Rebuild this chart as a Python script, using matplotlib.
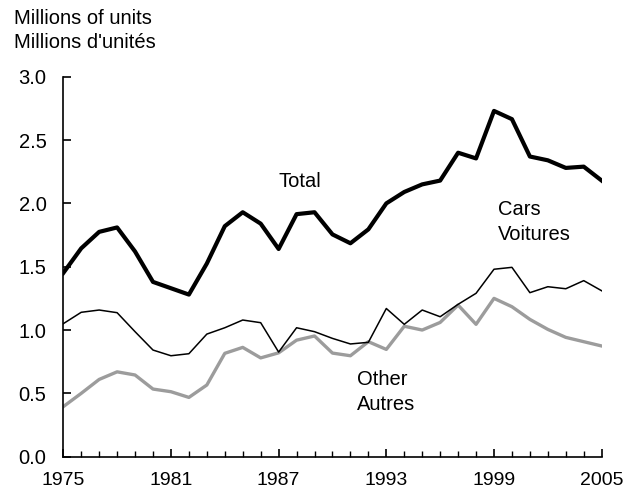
import matplotlib
matplotlib.use('Agg')
from matplotlib import pyplot as plt
from matplotlib.ticker import MultipleLocator

years = list(range(1975, 2006))

total = [1.45, 1.645, 1.775, 1.81, 1.62, 1.38, 1.33, 1.28, 1.525, 1.82,
         1.93, 1.84, 1.64, 1.915, 1.93, 1.755, 1.685, 1.795, 2.0, 2.09,
         2.15, 2.18, 2.40, 2.355, 2.73, 2.665, 2.37, 2.34, 2.28, 2.29,
         2.18]
cars = [1.05, 1.14, 1.158, 1.137, 0.987, 0.842, 0.797, 0.813, 0.968, 1.018,
        1.079, 1.058, 0.826, 1.018, 0.987, 0.934, 0.89, 0.903, 1.17, 1.045,
        1.158, 1.105, 1.203, 1.29, 1.48, 1.495, 1.295, 1.342, 1.326, 1.39,
        1.31]
other = [0.395, 0.5, 0.61, 0.67, 0.645, 0.534, 0.513, 0.468, 0.566, 0.816,
         0.863, 0.78, 0.82, 0.92, 0.953, 0.818, 0.797, 0.908, 0.847, 1.03,
         1.0, 1.06, 1.197, 1.045, 1.25, 1.184, 1.084, 1.005, 0.942, 0.908,
         0.874]

xticks = [1975, 1981, 1987, 1993, 1999, 2005]
yticks = [0.0, 0.5, 1.0, 1.5, 2.0, 2.5, 3.0]

FS = 14.5


def main():
    plt.rcParams['font.family'] = ['Liberation Sans', 'DejaVu Sans']
    fig = plt.figure(figsize=(6.39, 4.95), dpi=100)
    ax = fig.add_axes((0.099, 0.0774, 0.8426, 0.7676))

    ax.plot(years, other, color='#9c9c9c', lw=2.4)
    ax.plot(years, cars, color='black', lw=1.1)
    ax.plot(years, total, color='black', lw=3.0)

    ax.set_xlim(1975, 2005)
    ax.set_ylim(0, 3.0)
    ax.set_xticks(xticks)
    ax.xaxis.set_minor_locator(MultipleLocator(1))
    ax.set_yticks(yticks)
    ax.set_yticklabels([f'{v:.1f}' for v in yticks])

    for side in ('top', 'right'):
        ax.spines[side].set_visible(False)
    for side in ('left', 'bottom'):
        ax.spines[side].set_linewidth(1.2)

    ax.tick_params(axis='x', which='major', direction='in', length=6, width=1.2,
                   labelsize=14, pad=11)
    ax.tick_params(axis='x', which='minor', direction='in', length=4, width=1.0)
    ax.tick_params(axis='y', which='major', direction='in', length=6, width=1.2,
                   labelsize=FS, pad=12)

    ax.text(1987.0, 2.17, 'Total', fontsize=FS, va='center', ha='left')
    ax.text(1999.2, 1.95, 'Cars', fontsize=FS, va='center', ha='left')
    ax.text(1999.2, 1.754, 'Voitures', fontsize=FS, va='center', ha='left')
    ax.text(1991.35, 0.61, 'Other', fontsize=FS, va='center', ha='left')
    ax.text(1991.35, 0.41, 'Autres', fontsize=FS, va='center', ha='left')

    fig.text(14 / 639, 1 - 19 / 495, 'Millions of units', fontsize=FS,
             va='center', ha='left')
    fig.text(14 / 639, 1 - 43 / 495, "Millions d'unités", fontsize=FS,
             va='center', ha='left')

    fig.savefig('out.png', dpi=100)


if __name__ == '__main__':
    main()
